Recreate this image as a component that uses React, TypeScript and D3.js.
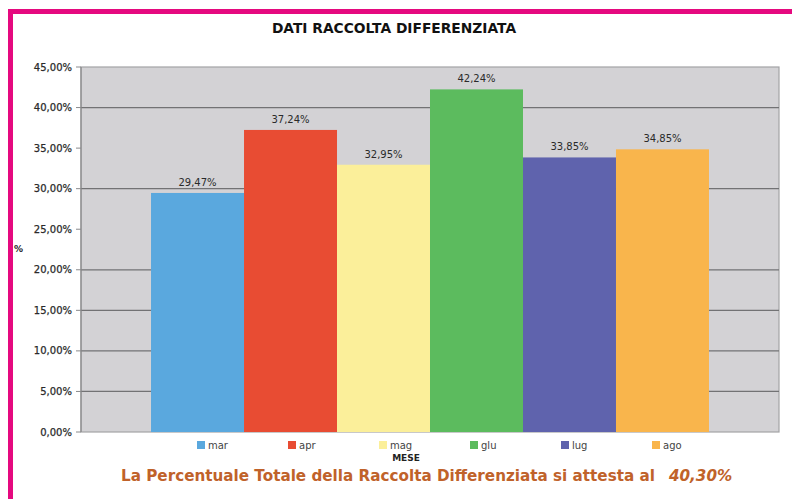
import React from 'react';
import * as d3 from 'd3';

// chart data
const months = ['mar', 'apr', 'mag', 'glu', 'lug', 'ago'];
const percentages = [29.47, 37.24, 32.95, 42.24, 33.85, 34.85];
const barColors = ['#5aa8de', '#e84c33', '#fbef9a', '#5cbb5e', '#5f63ad', '#f9b54c'];
const yTicks = [0, 5, 10, 15, 20, 25, 30, 35, 40, 45];
const gridTicks = [5, 10, 15, 20, 30, 40]; // lines that show in the original
const title = 'DATI RACCOLTA DIFFERENZIATA';
const footerText = 'La Percentuale Totale della Raccolta Differenziata si attesta al';
const footerValue = '40,30%';

const W = 792;
const H = 499;
const plot = {left: 81, right: 779, top: 67, bottom: 432};

const fmt = (v: number) => v.toFixed(2).replace('.', ',') + '%';

export default function App() {
	const x = d3.scaleBand<string>()
		.domain(months)
		.range([plot.left, plot.right])
		.paddingInner(0)
		.paddingOuter(0.753);

	const y = d3.scaleLinear().domain([0, 45]).range([plot.bottom, plot.top]);

	const legendX = d3.scalePoint<string>()
		.domain(months)
		.range([197, 652]);

	const font = '"DejaVu Sans", Verdana, sans-serif';

	return (
		<div style={{position: 'absolute', left: 0, top: 0}}>
			<svg width={W} height={H} style={{display: 'block', fontFamily: font}}>
				<rect x={0} y={0} width={W} height={H} fill="#ffffff"/>

				{/* pink frame */}
				<rect x={8} y={9} width={W - 8} height={5} fill="#e5097f"/>
				<rect x={8} y={9} width={5} height={H - 9} fill="#e5097f"/>

				<text x={394} y={33} textAnchor="middle" fontSize={13.8} fontWeight="bold" fill="#111">
					{title}
				</text>

				{/* plot area */}
				<rect x={plot.left} y={plot.top} width={plot.right - plot.left} height={plot.bottom - plot.top}
					fill="#d3d2d5" stroke="#a3a3a6" strokeWidth={1.2}/>

				{/* grid */}
				<g>
					{gridTicks.map(t => (
						<line key={t} x1={plot.left} x2={plot.right} y1={y(t)} y2={y(t)}
							stroke="#727274" strokeWidth={1.3}/>
					))}
				</g>

				{/* y axis */}
				<g>
					<line x1={plot.left} x2={plot.left} y1={plot.top} y2={plot.bottom} stroke="#8a8a8c" strokeWidth={1.2}/>
					{yTicks.map(t => (
						<g key={t}>
							<line x1={plot.left - 5} x2={plot.left} y1={y(t)} y2={y(t)} stroke="#8a8a8c"/>
							<text x={plot.left - 9} y={y(t) + 3.5} textAnchor="end" fontSize={10} fill="#2a2a2a"
								stroke="#2a2a2a" strokeWidth={0.25}>
								{fmt(t)}
							</text>
						</g>
					))}
					<text x={14} y={252} fontSize={9} fontWeight="bold" fill="#222">%</text>
				</g>

				{/* bars */}
				<g>
					{months.map((m, i) => (
						<rect key={m} x={x(m)} y={y(percentages[i])} width={x.bandwidth()}
							height={plot.bottom - y(percentages[i])} fill={barColors[i]}/>
					))}
				</g>

				{/* value labels */}
				<g>
					{months.map((m, i) => (
						<text key={m} x={(x(m) as number) + x.bandwidth() / 2} y={y(percentages[i]) - 7}
							textAnchor="middle" fontSize={10} fill="#2a2a2a">
							{fmt(percentages[i])}
						</text>
					))}
				</g>

				{/* legend */}
				<g>
					{months.map((m, i) => (
						<g key={m} transform={`translate(${legendX(m)},441)`}>
							<rect x={0} y={0} width={8} height={8} fill={barColors[i]}/>
							<text x={11} y={8} fontSize={10} fill="#444">{m}</text>
						</g>
					))}
				</g>
				<text x={406} y={461} textAnchor="middle" fontSize={9} fontWeight="bold" fill="#222">MESE</text>

				{/* footer */}
				<text x={121} y={481} fontSize={15.2} fontWeight="bold" fill="#c0622a">
					{footerText}
					<tspan dx={14} fontStyle="italic">{footerValue}</tspan>
				</text>
			</svg>
		</div>
	);
}
